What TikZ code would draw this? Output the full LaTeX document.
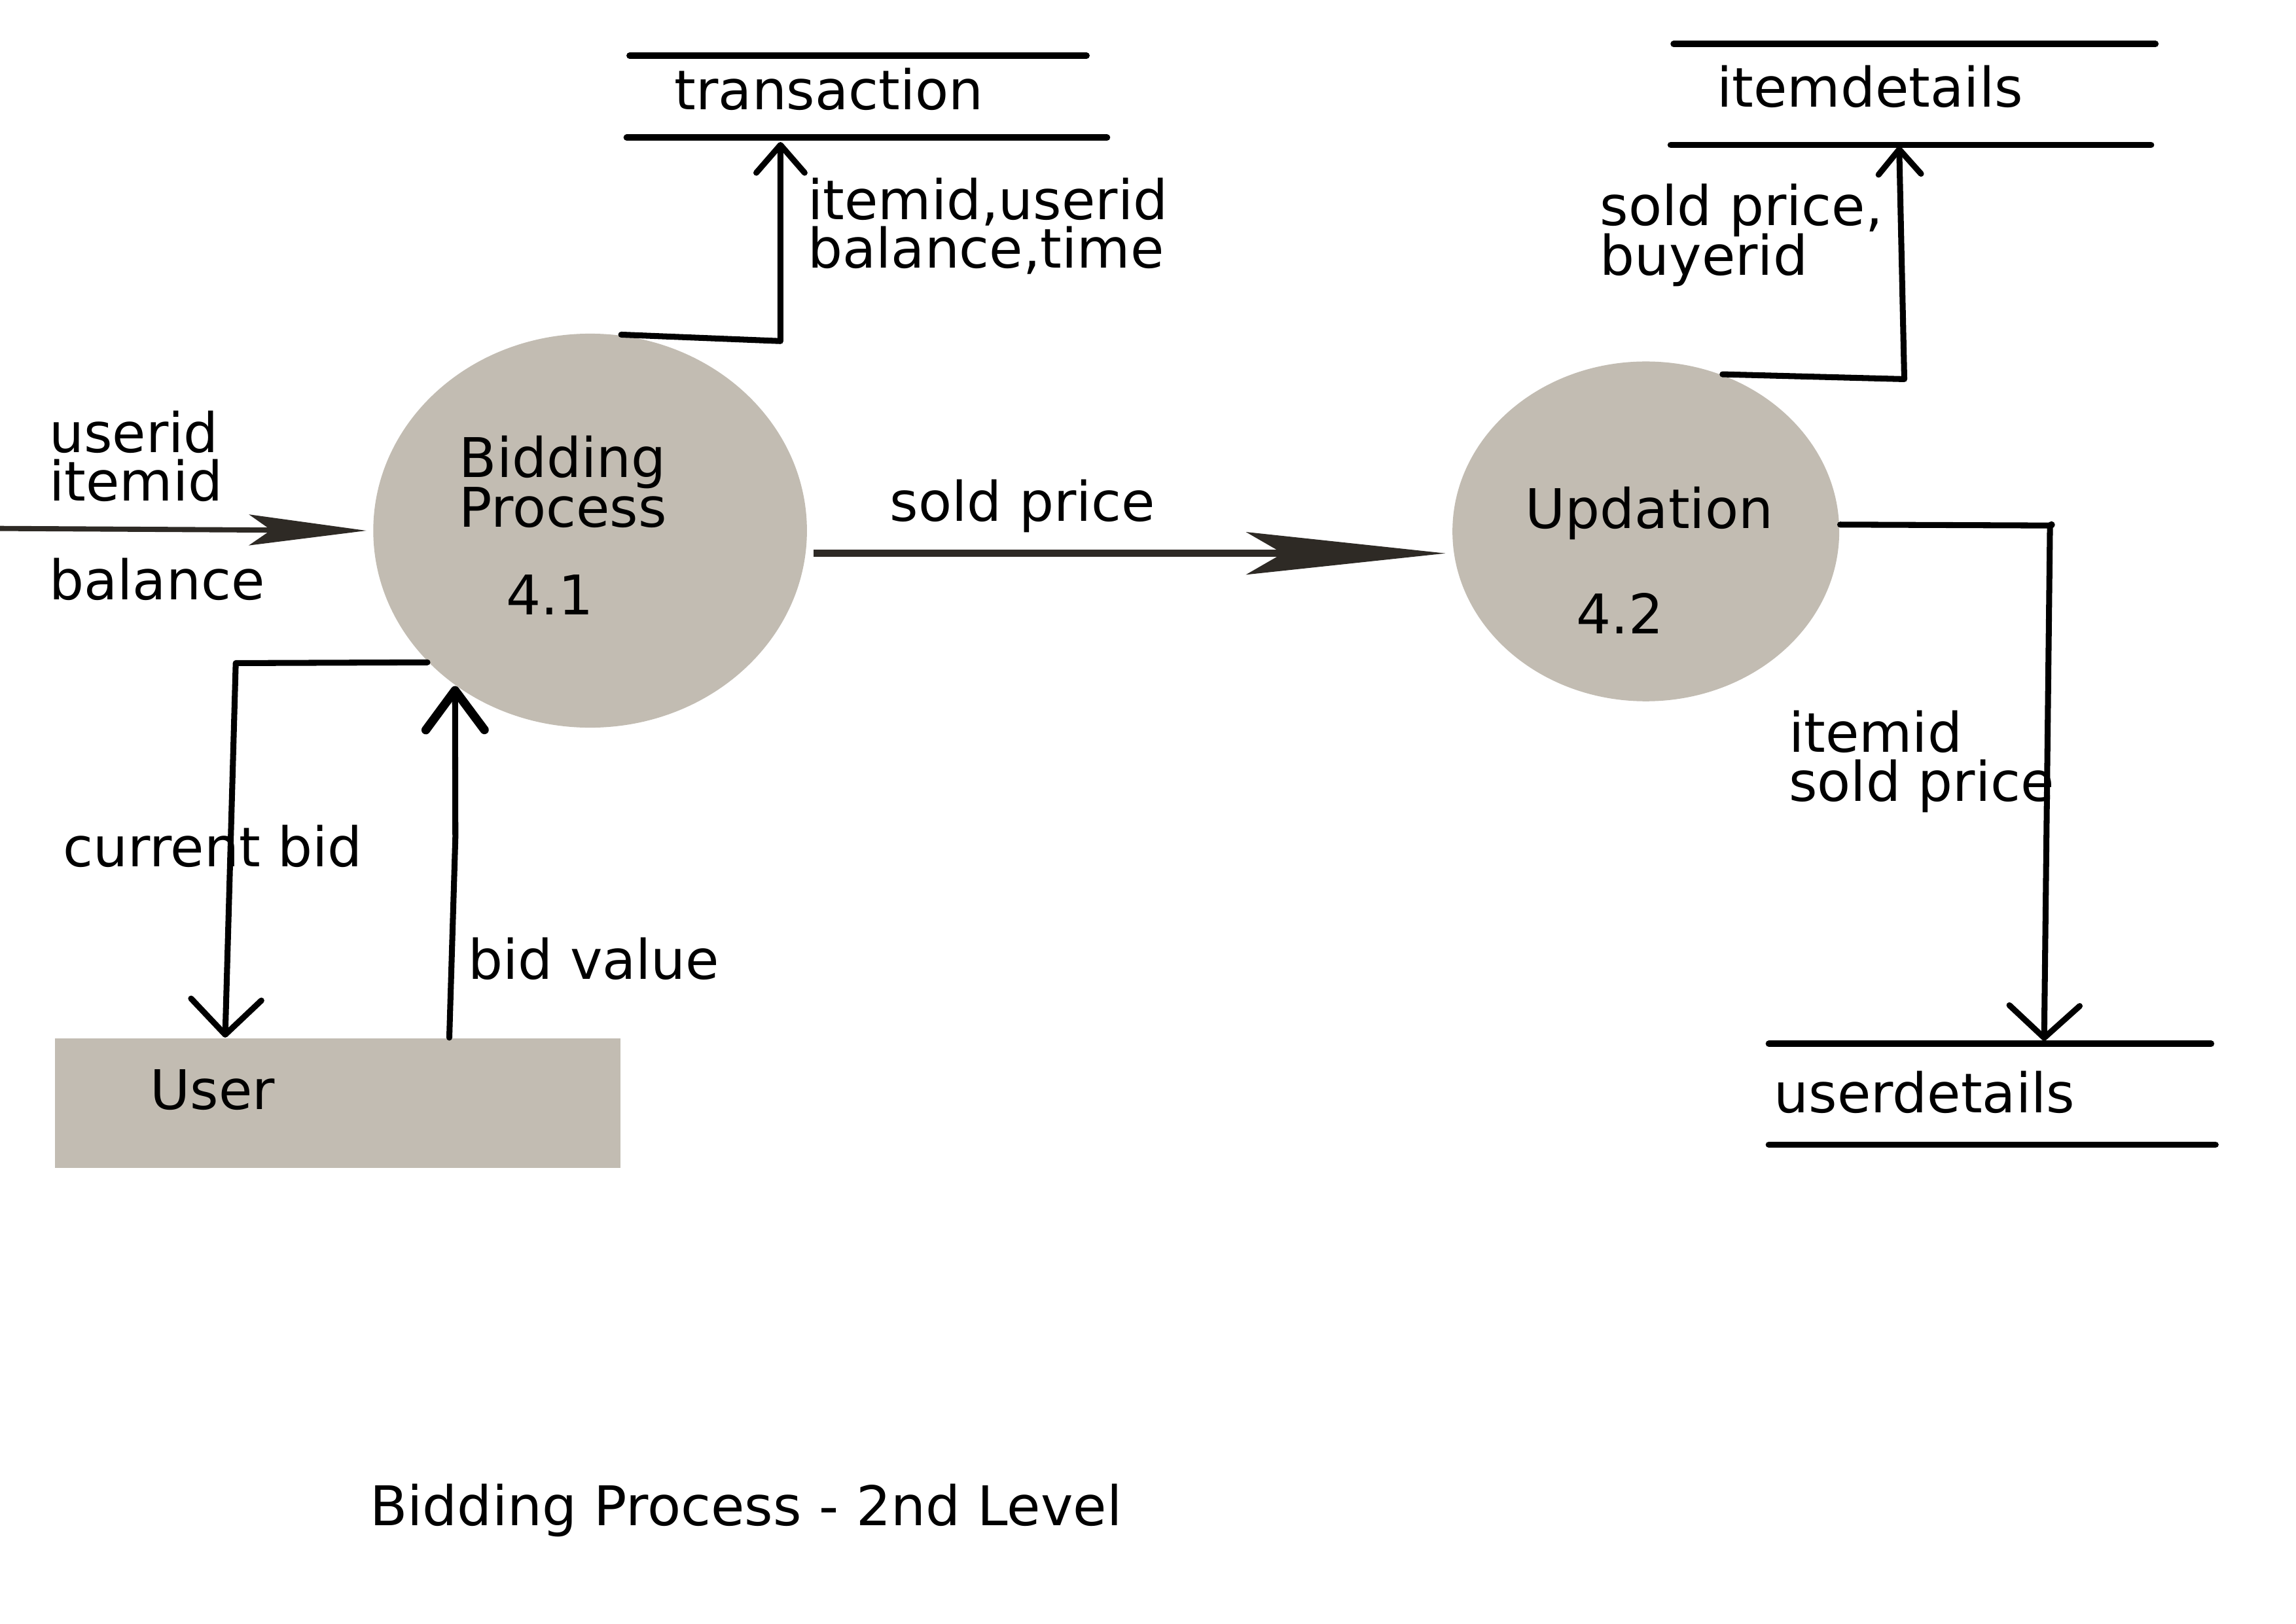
\documentclass[tikz,border=0pt]{standalone}
\usepackage{fontspec}
\setmainfont{DejaVu Sans}
\usetikzlibrary{shapes.geometric,arrows.meta}
\definecolor{procfill}{RGB}{194,188,178}
\definecolor{darkflow}{RGB}{46,42,37}
\begin{document}
\begin{tikzpicture}[x=0.01cm,y=-0.01cm,
  lbl/.style={anchor=base west, inner sep=0pt, xshift=-0.02cm, font=\fontsize{10.62pt}{12pt}\selectfont},
  proc/.style={ellipse, fill=procfill, inner sep=0pt},
  entity/.style={rectangle, fill=procfill, inner sep=0pt},
  storeline/.style={line width=1.25pt, line cap=round},
  flow/.style={line width=1.15pt, line join=round, line cap=round},
  darkarrow/.style={draw=darkflow, fill=darkflow}
]
\useasboundingbox (0,0) rectangle (1568,1109);

% processes and entity
\node[proc, minimum width=2.96cm, minimum height=2.69cm] (bp) at (403,362.5) {};
\node[proc, minimum width=2.64cm, minimum height=2.32cm] (up) at (1124,363) {};
\node[entity, minimum width=3.86cm, minimum height=0.885cm] (user) at (230.5,753.8) {};

% texts inside shapes
\node[lbl] (bp1) at (315,326) {Bidding};
\node[lbl] (bp2) at (315,360) {Process};
\node[lbl] (bpn) at (347,420) {4.1};
\node[lbl] (up1) at (1043,361) {Updation};
\node[lbl] (upn) at (1078,433) {4.2};
\node[lbl] (usr) at (104,758) {User};

% data stores
\coordinate (t1) at (430,38);  \coordinate (t2) at (742,38);
\coordinate (t3) at (428,94);  \coordinate (t4) at (756,94);
\draw[storeline] (t1) -- (t2);
\draw[storeline] (t3) -- (t4);
\node[lbl] (trans) at (462,75) {transaction};

\coordinate (i1) at (1143,30);  \coordinate (i2) at (1472,30);
\coordinate (i3) at (1141,99);  \coordinate (i4) at (1469,99);
\draw[storeline] (i1) -- (i2);
\draw[storeline] (i3) -- (i4);
\node[lbl] (itemd) at (1174,73) {itemdetails};

\coordinate (u1) at (1208,713);  \coordinate (u2) at (1510,713);
\coordinate (u3) at (1208,782);  \coordinate (u4) at (1513,782);
\draw[storeline] (u1) -- (u2);
\draw[storeline] (u3) -- (u4);
\node[lbl] (userd) at (1213,760) {userdetails};

% incoming flow
\coordinate (inS) at (0,361);
\draw[line width=1.0pt, darkflow, -{Stealth[length=0.80cm, width=0.21cm, inset=0.15cm]}]
  (inS) -- ([xshift=-0.04cm]bp.west);
\node[lbl] (l1) at (35,309) {userid};
\node[lbl] (l2) at (35,342) {itemid};
\node[lbl] (l3) at (35,409.5) {balance};

% sold price flow
\draw[line width=1.35pt, darkflow, -{Stealth[length=1.36cm, width=0.29cm, inset=0.25cm]}]
  ([shift={(4,15.5)}]bp.east) -- ([shift={(-4,15)}]up.west);
\node[lbl] (l4) at (609,356) {sold price};

% to transaction
\coordinate (tb) at (533,233);
\coordinate (tt) at (533,97);
\draw[flow, -{Straight Barb[length=0.19cm,width=0.33cm,round]}] (bp.81.5) -- (tb) -- (tt);
\node[lbl] (l5) at (553,150) {itemid,userid};
\node[lbl] (l6) at (553,183) {balance,time};

% to itemdetails
\coordinate (ib) at (1300.5,259);
\coordinate (it) at (1297,100);
\draw[flow, -{Straight Barb[length=0.17cm,width=0.29cm,round]}] (up.64) -- (ib) -- (it);
\node[lbl] (l7) at (1094,154) {sold price,};
\node[lbl] (l8) at (1094,188) {buyerid};

% to userdetails
\coordinate (ub) at (1400,359);
\coordinate (ut) at (1396,711);
\draw[flow, -{Straight Barb[length=0.22cm,width=0.48cm,round]}] (up.2) -- (ub) -- (ut);
\fill (1401,358.5) circle (2.4);
\node[lbl] (l9) at (1223,514) {itemid};
\node[lbl] (l10) at (1223,547.5) {sold price};

% current bid
\coordinate (cb) at (161,453);
\draw[flow, -{Straight Barb[length=0.24cm,width=0.48cm,round]}] (bp.219) -- (cb) -- ([xshift=1.17cm]user.north west);
\node[lbl] (l11) at (44.5,592) {current bid};

% bid value
\coordinate (bv) at (311,572);
\draw[flow, -{Straight Barb[length=0.27cm,width=0.40cm,round,line width=1.7pt]}] ([xshift=2.70cm]user.north west) -- (bv) -- (bp.229);
\node[lbl] (l12) at (321,669) {bid value};

% title
\node[lbl] (title) at (254,1042) {Bidding Process - 2nd Level};
\end{tikzpicture}
\end{document}
